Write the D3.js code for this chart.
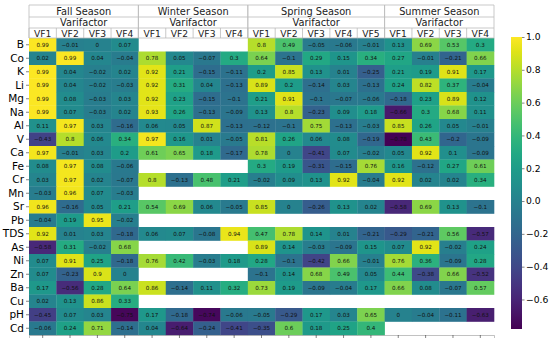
<!DOCTYPE html>
<html lang="en">
<head>
<meta charset="utf-8">
<title>Varifactor loadings heatmap</title>
<script src="https://d3js.org/d3.v7.min.js"></script>
<style>
  body { margin: 0; background: #fff; }
  svg { display: block; font-family: "DejaVu Sans", sans-serif; }
</style>
</head>
<body>
<script>
const W = 550, H = 341;

// row labels (parameters)
const params = ["B","Co","K","Li","Mg","Na","Al","V","Ca","Fe","Cr","Mn","Sr","Pb","TDS","As","Ni","Zn","Ba","Cu","pH","Cd"];

const seasons = ["Fall Season", "Winter Season", "Spring Season", "Summer Season"];
const factors = [["VF1","VF2","VF3","VF4"], ["VF1","VF2","VF3","VF4"], ["VF1","VF2","VF3","VF4","VF5"], ["VF1","VF2","VF3","VF4"]];

// loadings, one row per parameter; null = not present
const fallValues = [
  [0.99,-0.01,0,0.07],[0.02,0.99,0.04,-0.04],[0.99,0.04,-0.02,0.02],[0.99,0.04,-0.02,-0.03],
  [0.99,0.08,-0.03,0.03],[0.99,0.07,-0.03,0.02],[0.11,0.97,0.03,-0.16],[-0.43,0.8,0.06,0.34],
  [0.97,-0.01,0.03,0.2],[0.08,0.97,0.08,-0.06],[0.03,0.97,0.02,-0.07],[-0.03,0.96,0.07,-0.03],
  [0.96,-0.16,0.05,0.21],[-0.04,0.19,0.95,-0.02],[0.92,0.01,0.03,-0.18],[-0.58,0.31,-0.02,0.68],
  [0.07,0.91,0.25,-0.18],[0.07,-0.23,0.9,0],[0.17,-0.56,0.28,0.64],[0.02,0.13,0.86,0.33],
  [-0.45,0.07,0.03,-0.75],[-0.06,0.24,0.71,-0.14]
];
const winterValues = [
  [null,null,null,null],[0.78,0.05,-0.07,0.3],[0.92,0.21,-0.15,-0.11],[0.92,0.31,0.04,-0.13],
  [0.92,0.23,-0.15,-0.1],[0.93,0.26,-0.13,-0.09],[0.06,0.05,0.87,-0.13],[0.97,0.16,0.01,-0.05],
  [0.61,0.65,0.18,-0.17],[null,null,null,null],[0.8,-0.13,0.48,0.21],[null,null,null,null],
  [0.54,0.69,0.06,-0.05],[null,null,null,null],[0.06,0.07,-0.08,0.94],[null,null,null,null],
  [0.76,0.42,-0.03,0.18],[null,null,null,null],[0.86,-0.14,0.11,0.32],[null,null,null,null],
  [0.17,-0.18,-0.74,-0.06],[0.04,-0.64,-0.24,-0.41]
];
const springValues = [
  [0.8,0.49,-0.05,-0.06,-0.01],[0.64,-0.1,0.29,0.15,0.34],[0.2,0.85,0.13,0.01,-0.25],[0.89,0.2,-0.14,0.03,-0.13],
  [0.21,0.91,-0.1,-0.07,-0.06],[0.13,0.8,-0.23,0.09,0.18],[-0.12,-0.1,0.75,-0.13,-0.03],[0.81,0.26,0.06,0.08,-0.19],
  [0.78,0,-0.41,0.07,-0.02],[0.3,0.19,-0.31,-0.15,0.76],[-0.02,0.09,0.13,0.92,-0.04],[null,null,null,null,null],
  [0.85,0,-0.26,0.13,0.02],[null,null,null,null,null],[0.47,0.78,0.14,0.01,-0.21],[0.89,0.14,-0.03,-0.09,0.15],
  [0.28,-0.1,-0.42,0.66,-0.01],[-0.1,0.14,0.68,0.49,0.05],[0.73,0.19,-0.09,-0.04,0.17],[null,null,null,null,null],
  [-0.05,-0.29,0.17,0.03,0.65],[-0.35,0.6,0.18,0.25,0.4]
];
const summerValues = [
  [0.13,0.69,0.53,0.3],[0.27,-0.01,-0.21,0.66],[0.21,0.19,0.91,0.17],[0.24,0.82,0.37,-0.04],
  [-0.18,0.23,0.89,0.12],[-0.66,0.3,0.68,0.11],[0.85,0.26,0.05,-0.01],[-0.78,0.43,-0.2,-0.09],
  [0.05,0.92,0.1,-0.09],[0.16,-0.12,0.27,0.61],[0.92,0.02,0.02,0.34],[null,null,null,null],
  [-0.58,0.69,0.13,-0.1],[null,null,null,null],[-0.29,-0.21,0.56,-0.57],[0.07,0.92,-0.02,0.24],
  [0.76,0.36,-0.09,0.28],[0.44,-0.38,0.66,-0.52],[0.66,0.08,-0.07,0.57],[null,null,null,null],
  [0,-0.04,-0.11,-0.63],[null,null,null,null]
];

const colorTicks = [1.0, 0.8, 0.6, 0.4, 0.2, 0.0, -0.2, -0.4, -0.6];

// build flat column list
const seasonValues = [fallValues, winterValues, springValues, summerValues];
const columns = [];
factors.forEach((fs, si) => fs.forEach((f, fi) => columns.push({season: si, factor: f, key: si + "-" + fi, fi})));
const cells = [];
params.forEach((p, ri) => {
  columns.forEach(c => {
    cells.push({param: p, col: c.key, v: seasonValues[c.season][ri][c.fi]});
  });
});

const plotLeft = 29, plotRight = 494, plotTop = 38, plotBottom = 335;
const x = d3.scaleBand().domain(columns.map(c => c.key)).range([plotLeft, plotRight]);
const y = d3.scaleBand().domain(params).range([plotTop, plotBottom]);
const vmin = -0.78, vmax = 1.0;
const color = d3.scaleSequential(d3.interpolateViridis).domain([vmin, vmax]);

const svg = d3.select("body").append("svg").attr("width", W).attr("height", H);

const fmt = v => String(v).replace("-", "\u2212");

// cells
svg.append("g").selectAll("rect")
  .data(cells.filter(d => d.v !== null))
  .join("rect")
  .attr("x", d => x(d.col))
  .attr("y", d => y(d.param))
  .attr("width", x.bandwidth() + 0.3)
  .attr("height", y.bandwidth() + 0.3)
  .attr("fill", d => color(d.v));

svg.append("g").selectAll("text")
  .data(cells.filter(d => d.v !== null))
  .join("text")
  .attr("x", d => x(d.col) + x.bandwidth() / 2)
  .attr("y", d => y(d.param) + y.bandwidth() / 2)
  .attr("text-anchor", "middle")
  .attr("dominant-baseline", "central")
  .attr("font-size", 5.6)
  .attr("fill", "#111")
  .text(d => fmt(d.v));

// row axis
const yAxis = svg.append("g")
  .attr("transform", `translate(${plotLeft},0)`)
  .call(d3.axisLeft(y).tickSize(3).tickPadding(2));
yAxis.select(".domain").remove();
yAxis.selectAll("text").attr("font-size", 10.5).attr("fill", "#000").attr("font-family", "DejaVu Sans");
yAxis.selectAll("line").attr("stroke", "#333").attr("stroke-width", 0.6);

// bottom ticks only
const xAxis = svg.append("g")
  .attr("transform", `translate(0,${plotBottom})`)
  .call(d3.axisBottom(x).tickSize(3).tickFormat(""));
xAxis.select(".domain").attr("stroke", "#999").attr("stroke-width", 0.6);
xAxis.selectAll("line").attr("stroke", "#333").attr("stroke-width", 0.6);

// header table
const hdr = svg.append("g").attr("fill", "none").attr("stroke", "#bbb").attr("stroke-width", 0.8);
const hy = [5, 17, 28, plotTop];
hy.forEach(yy => hdr.append("line").attr("x1", plotLeft).attr("x2", plotRight).attr("y1", yy).attr("y2", yy));
let ci = 0;
const seasonSpans = factors.map(fs => { const s = ci; ci += fs.length; return [s, ci]; });
seasonSpans.forEach(([s, e]) => {
  const x0 = x(columns[s].key), x1 = x(columns[e - 1].key) + x.bandwidth();
  hdr.append("line").attr("x1", x0).attr("x2", x0).attr("y1", hy[0]).attr("y2", plotTop);
  hdr.append("line").attr("x1", x1).attr("x2", x1).attr("y1", hy[0]).attr("y2", plotTop);
});
columns.forEach(c => {
  const xx = x(c.key);
  hdr.append("line").attr("x1", xx).attr("x2", xx).attr("y1", hy[2]).attr("y2", plotTop);
});

const htext = svg.append("g").attr("fill", "#222").attr("text-anchor", "middle");
seasonSpans.forEach(([s, e], si) => {
  const cx = (x(columns[s].key) + x(columns[e - 1].key) + x.bandwidth()) / 2;
  htext.append("text").attr("x", cx).attr("y", 11.2).attr("font-size", 9.8)
    .attr("dominant-baseline", "central").text(seasons[si]);
  htext.append("text").attr("x", cx).attr("y", 22.6).attr("font-size", 9.8)
    .attr("dominant-baseline", "central").text("Varifactor");
});
columns.forEach(c => {
  htext.append("text").attr("x", x(c.key) + x.bandwidth() / 2).attr("y", 33.2).attr("font-size", 9.2)
    .attr("dominant-baseline", "central").text(c.factor);
});

// colorbar
const cbX = 511, cbW = 11, cbTop = 37, cbBottom = 329;
const cy = d3.scaleLinear().domain([vmax, vmin]).range([cbTop, cbBottom]);
const defs = svg.append("defs");
const grad = defs.append("linearGradient").attr("id", "cbgrad").attr("x1", 0).attr("x2", 0).attr("y1", 1).attr("y2", 0);
d3.range(0, 1.0001, 0.05).forEach(t => {
  grad.append("stop").attr("offset", t).attr("stop-color", color(vmin + t * (vmax - vmin)));
});
svg.append("rect").attr("x", cbX).attr("y", cbTop).attr("width", cbW).attr("height", cbBottom - cbTop)
  .attr("fill", "url(#cbgrad)");
const cAxis = svg.append("g").attr("transform", `translate(${cbX + cbW},0)`)
  .call(d3.axisRight(cy).tickValues(colorTicks).tickSize(2.5).tickPadding(1.5).tickFormat(d => fmt(d3.format(".1f")(d))));
cAxis.select(".domain").remove();
cAxis.selectAll("text").attr("font-size", 9.2).attr("fill", "#000").attr("font-family", "DejaVu Sans");
cAxis.selectAll("line").attr("stroke", "#333").attr("stroke-width", 0.6);
</script>
</body>
</html>
